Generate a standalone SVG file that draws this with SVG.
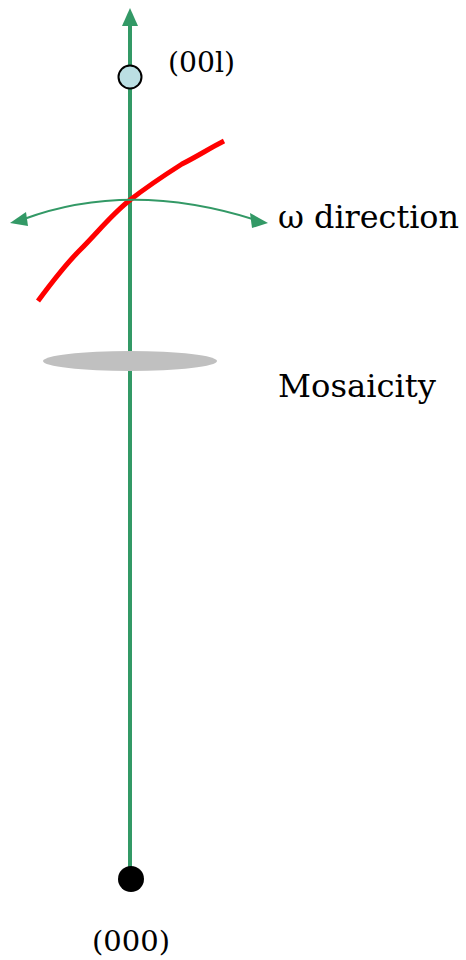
<svg xmlns="http://www.w3.org/2000/svg" width="466" height="960" viewBox="0 0 466 960">
<style>
.lbl{font-family:"DejaVu Serif","Liberation Serif",serif;fill:#000}
.g{stroke:#339966;fill:none}
</style>
<rect width="466" height="960" fill="#fff"/>
<g id="connectors">
<line class="g" x1="130" y1="879" x2="130" y2="24" stroke-width="4"/>
<path d="M122,26 L130,8 L138,26 z" fill="#339966"/>
<path d="M38,301 C55,278 68,262 80,250 C98,232 112,214 130,200 C148,186 160,178 182,164 C198,156 210,148 224,141" stroke="#ff0000" stroke-width="5" fill="none"/>
<path class="g" d="M24,219 Q130,180 256,220" stroke-width="2"/>
<path d="M10,223 L26,212 L28,226 z" fill="#339966"/>
<path d="M268,223 L250,213 L252,228 z" fill="#339966"/>
</g>
<g id="node-001">
<circle cx="130" cy="77" r="11.5" fill="#bbdfe3" stroke="#000" stroke-width="2"/>
<text class="lbl" x="168" y="72" font-size="27" textLength="67" lengthAdjust="spacingAndGlyphs">(00l)</text>
</g>
<g id="node-omega">
<text class="lbl" x="278" y="228" font-size="31" textLength="181" lengthAdjust="spacingAndGlyphs">ω direction</text>
</g>
<g id="node-mosaicity">
<ellipse cx="130" cy="361" rx="87" ry="10" fill="#c0c0c0"/>
<text class="lbl" x="278" y="397" font-size="32" textLength="158" lengthAdjust="spacingAndGlyphs">Mosaicity</text>
</g>
<g id="node-000">
<circle cx="131" cy="879" r="13" fill="#000"/>
<text class="lbl" x="92" y="951" font-size="27" textLength="78" lengthAdjust="spacingAndGlyphs">(000)</text>
</g>
</svg>
